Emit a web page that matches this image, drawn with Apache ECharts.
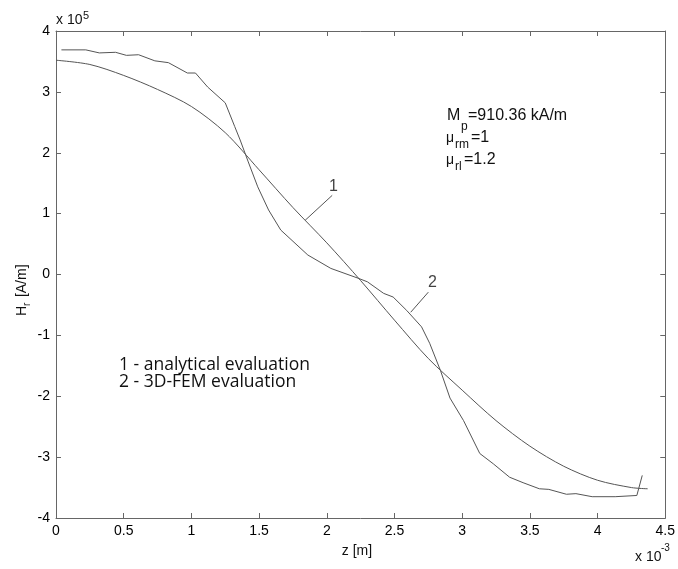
<!DOCTYPE html>
<html><head><meta charset="utf-8">
<script src="https://cdn.jsdelivr.net/npm/echarts@6/dist/echarts.min.js"></script>
<style>html,body{margin:0;padding:0;background:#fff}#c{width:678px;height:569px}</style>
</head><body><div id="c"></div>
<script>
// z in units of 1e-3 m, H_r in units of 1e5 A/m
const analyticalZ = [0, 0.25, 0.5, 0.75, 1.0, 1.25, 1.5, 1.75, 2.0, 2.25, 2.5, 2.75, 3.0, 3.25, 3.5, 3.75, 4.0, 4.25, 4.37];
const analyticalH = [3.52, 3.45, 3.27, 3.04, 2.76, 2.33, 1.72, 1.10, 0.52, -0.10, -0.75, -1.38, -1.90, -2.40, -2.82, -3.15, -3.38, -3.50, -3.52];

const femZ = [0.04, 0.22, 0.32, 0.44, 0.52, 0.61, 0.73, 0.83, 0.97, 1.03, 1.12, 1.25, 1.32, 1.36, 1.42, 1.49, 1.57, 1.66, 1.86, 2.03, 2.23, 2.30, 2.42, 2.49, 2.59, 2.70, 2.76, 2.84, 2.91, 3.01, 3.13, 3.23, 3.35, 3.45, 3.57, 3.64, 3.77, 3.84, 3.96, 4.13, 4.29, 4.33];
const femH = [3.69, 3.69, 3.64, 3.65, 3.60, 3.61, 3.51, 3.48, 3.31, 3.31, 3.08, 2.82, 2.43, 2.21, 1.85, 1.44, 1.06, 0.73, 0.32, 0.10, -0.06, -0.12, -0.31, -0.37, -0.59, -0.86, -1.13, -1.58, -2.03, -2.40, -2.94, -3.11, -3.33, -3.42, -3.52, -3.53, -3.61, -3.60, -3.65, -3.65, -3.63, -3.30];

// curve annotation labels and their leader lines (data units)
const label1 = [2.05, 1.45];
const leader1Z = [2.04, 1.84];
const leader1H = [1.30, 0.89];
const label2 = [2.78, -0.13];
const leader2Z = [2.75, 2.62];
const leader2H = [-0.29, -0.62];

const xMin = 0, xMax = 4.5, xStep = 0.5;
const yMin = -4, yMax = 4, yStep = 1;

const zip = (a, b) => a.map((v, i) => [v, b[i]]);
const lineCol = '#555';
const axisCol = '#666';
const FONT = '"Liberation Sans", Arial, sans-serif';

const chart = echarts.init(document.getElementById('c'));
const axisCommon = {
  type: 'value',
  axisLine: { show: true, onZero: false, lineStyle: { color: axisCol, width: 1 } },
  axisTick: { show: true, inside: true, length: 5, lineStyle: { color: axisCol } },
  splitLine: { show: false },
};
chart.setOption({
  animation: false,
  backgroundColor: '#fff',
  grid: { left: 56, right: 8, top: 31, bottom: 51, containLabel: false },
  xAxis: [
    Object.assign({}, axisCommon, { min: xMin, max: xMax, interval: xStep, position: 'bottom',
      axisLabel: { color: '#000', fontFamily: FONT, fontSize: 14, margin: 6, formatter: v => String(+v.toFixed(1)) } }),
    Object.assign({}, axisCommon, { min: xMin, max: xMax, interval: xStep, position: 'top',
      axisLabel: { show: false } })
  ],
  yAxis: [
    Object.assign({}, axisCommon, { min: yMin, max: yMax, interval: yStep, position: 'left',
      axisLabel: { color: '#000', fontFamily: FONT, fontSize: 14, margin: 6 } }),
    Object.assign({}, axisCommon, { min: yMin, max: yMax, interval: yStep, position: 'right',
      axisLabel: { show: false } })
  ],
  series: [
    { type: 'line', data: zip(analyticalZ, analyticalH), showSymbol: false, smooth: 0.3, lineStyle: { color: lineCol, width: 1 } },
    { type: 'line', data: zip(femZ, femH), showSymbol: false, lineStyle: { color: lineCol, width: 1 } },
    { type: 'line', data: zip(leader1Z, leader1H), showSymbol: false, lineStyle: { color: lineCol, width: 1 } },
    { type: 'line', data: zip(leader2Z, leader2H), showSymbol: false, lineStyle: { color: lineCol, width: 1 } },
    { type: 'scatter', symbolSize: 0, data: [
        { value: label1, label: { show: true, formatter: '1' } },
        { value: label2, label: { show: true, formatter: '2' } }
      ],
      label: { position: 'inside', color: '#111', fontFamily: FONT, fontSize: 16 } }
  ],
  graphic: [
    // x 10^5
    { type: 'text', x: 56, y: 27, style: { text: 'x 10', fill: '#111', font: '14px ' + FONT, verticalAlign: 'bottom' } },
    { type: 'text', x: 83, y: 21, style: { text: '5', fill: '#111', font: '11px ' + FONT, verticalAlign: 'bottom' } },
    // x 10^-3
    { type: 'text', x: 635, y: 564, style: { text: 'x 10', fill: '#111', font: '14px ' + FONT, verticalAlign: 'bottom' } },
    { type: 'text', x: 661, y: 553, style: { text: '-3', fill: '#111', font: '10px ' + FONT, verticalAlign: 'bottom' } },
    // axis names
    { type: 'text', x: 357, y: 551, style: { text: 'z [m]', fill: '#111', font: '14px ' + FONT, align: 'center', verticalAlign: 'middle' } },
    { type: 'group', x: 22, y: 280, rotation: Math.PI / 2, children: [
      { type: 'text', x: -36, y: 0, style: { text: 'H', fill: '#111', font: '14px ' + FONT, verticalAlign: 'middle' } },
      { type: 'text', x: -26, y: 5, style: { text: 'r', fill: '#111', font: '10px ' + FONT, verticalAlign: 'middle' } },
      { type: 'text', x: -21, y: 0, style: { text: ' [A/m]', fill: '#111', font: '14px ' + FONT, verticalAlign: 'middle' } }
    ] },
    // parameters
    { type: 'text', x: 447, y: 116, style: { text: 'M', fill: '#111', font: '16px ' + FONT, verticalAlign: 'middle' } },
    { type: 'text', x: 461, y: 127, style: { text: 'p', fill: '#111', font: '12px ' + FONT, verticalAlign: 'middle' } },
    { type: 'text', x: 468, y: 116, style: { text: '=910.36 kA/m', fill: '#111', font: '16px ' + FONT, verticalAlign: 'middle' } },
    { type: 'text', x: 446, y: 138, style: { text: 'μ', fill: '#111', font: '14px ' + FONT, verticalAlign: 'middle' } },
    { type: 'text', x: 455, y: 145, style: { text: 'rm', fill: '#111', font: '12px ' + FONT, verticalAlign: 'middle' } },
    { type: 'text', x: 471, y: 138, style: { text: '=1', fill: '#111', font: '16px ' + FONT, verticalAlign: 'middle' } },
    { type: 'text', x: 446, y: 160, style: { text: 'μ', fill: '#111', font: '14px ' + FONT, verticalAlign: 'middle' } },
    { type: 'text', x: 455, y: 167, style: { text: 'rl', fill: '#111', font: '12px ' + FONT, verticalAlign: 'middle' } },
    { type: 'text', x: 464, y: 160, style: { text: '=1.2', fill: '#111', font: '16px ' + FONT, verticalAlign: 'middle' } },
    // legend-like notes
    { type: 'text', x: 119, y: 365, style: { text: '1 - analytical evaluation', fill: '#111', font: '17.5px "Open Sans", sans-serif', verticalAlign: 'middle' } },
    { type: 'text', x: 119, y: 382, style: { text: '2 - 3D-FEM evaluation', fill: '#111', font: '17.5px "Open Sans", sans-serif', verticalAlign: 'middle' } }
  ]
});
</script>
</body></html>
